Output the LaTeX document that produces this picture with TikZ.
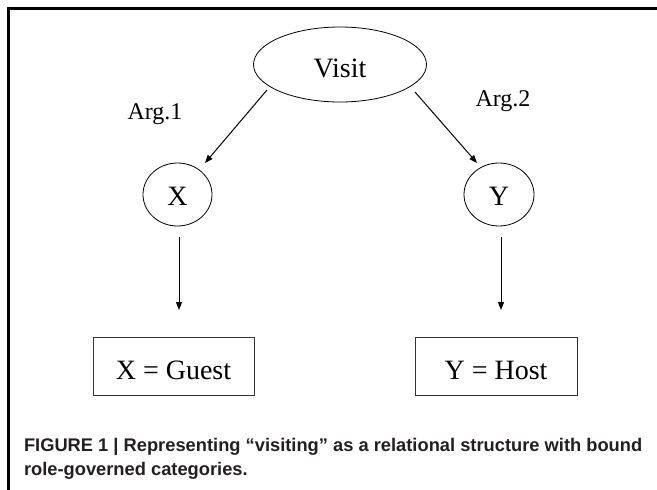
\documentclass[tikz,border=0pt]{standalone}
\usepackage{fontspec}
\setmainfont{Liberation Serif}
\newfontfamily\capfont{Liberation Sans}
\usetikzlibrary{shapes.geometric,arrows.meta,calc}
\definecolor{captxt}{HTML}{231F20}
\begin{document}
\begin{tikzpicture}[x=1pt,y=-1pt,
  every node/.style={inner sep=0pt,outer sep=0pt},
  bigtxt/.style={font=\fontsize{28}{31}\selectfont},
  argtxt/.style={font=\fontsize{24}{28}\selectfont},
  oval/.style={draw,ellipse,line width=0.8pt,bigtxt},
  valbox/.style={draw=black!80,rectangle,line width=1pt,bigtxt,minimum width=161pt,minimum height=58pt,text height=27pt,text depth=0pt},
  arr/.style={line width=1pt,-{Triangle[length=8pt,width=6pt]}},
  captext/.style={anchor=base west,text=captxt,font=\capfont\bfseries\fontsize{18.3}{22}\selectfont}
]
\useasboundingbox (0,0) rectangle (657,490);
\draw[line width=3pt,line join=miter] (657,8.5) -- (8.5,8.5) -- (8.5,490);

\node[oval,minimum width=173pt,minimum height=75pt,text height=25pt,text depth=0pt] (V) at (340,64.5) {Visit};
\node[oval,minimum width=69pt,minimum height=63pt,text height=21pt,text depth=0pt] (X) at (177.5,194.5) {X};
\node[oval,minimum width=70pt,minimum height=63pt,text height=21pt,text depth=0pt] (Y) at (499,194.5) {Y};

\node[valbox] (G) at (173.5,366) {X = Guest};
\node[valbox,minimum width=162pt] (H) at (496,366) {Y = Host};

\node[argtxt,anchor=base] (A1) at (155,119) {Arg.1};
\node[argtxt,anchor=base] (A2) at (503,106) {Arg.2};

\draw[arr] ($(V.center)+(-73,25.5)$) -- ($(X.center)+(27.5,-31.5)$);
\draw[arr] ($(V.center)+(75,27.5)$) -- ($(Y.center)+(-22,-31.5)$);
\draw[arr] ($(X.south)+(1.5,11)$) -- ($(G.north)+(5.5,-27)$);
\draw[arr] ($(Y.south)+(2,11)$) -- ($(H.north)+(5,-27)$);

\node[captext] (C1) at (24,451) {FIGURE 1 | Representing “visiting” as a relational structure with bound};
\node[captext] (C2) at (24,475) {role-governed categories.};
\end{tikzpicture}
\end{document}
